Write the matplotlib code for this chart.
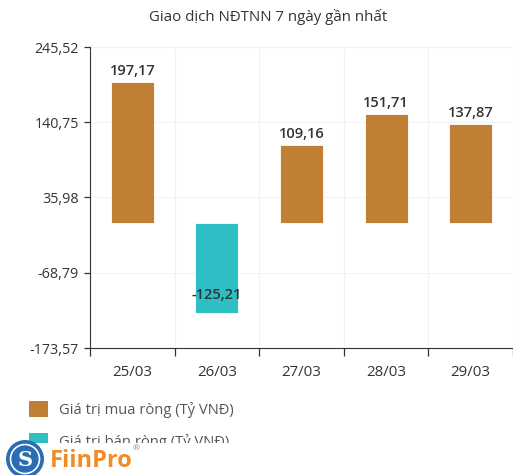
import numpy as np
import matplotlib.pyplot as plt
from matplotlib.patches import Patch, Rectangle, Ellipse

plt.rcParams['font.family'] = ['Open Sans', 'DejaVu Sans']

dates = ['25/03', '26/03', '27/03', '28/03', '29/03']
values = [197.17, -125.21, 109.16, 151.71, 137.87]
yticks = [245.52, 140.75, 35.98, -68.79, -173.57]
buy_label = 'Giá trị mua ròng (Tỷ VNĐ)'
sell_label = 'Giá trị bán ròng (Tỷ VNĐ)'

orange = '#C07F35'
teal = '#2EBFC4'

fig = plt.figure(figsize=(5.13, 4.75), dpi=100)
ax = fig.add_axes([90 / 513, 1 - 348 / 475, 1 - 90 / 513, (348 - 47) / 475])

x = np.arange(len(dates))
colors = [orange if v >= 0 else teal for v in values]
ax.bar(x, values, width=0.51, color=colors, edgecolor='white', linewidth=0.6, zorder=3)

for xi, v in zip(x, values):
    lab = f'{v:.2f}'.replace('.', ',')
    off = 3 if v >= 0 else 8
    ax.annotate(lab, (xi, v), xytext=(0, off), textcoords='offset points',
                ha='center', va='bottom', fontsize=10.5, fontweight=600,
                color='#333333', zorder=4)

ax.set_xlim(-0.5, len(dates) - 0.5)
ax.set_ylim(yticks[-1], yticks[0])
ax.set_yticks(yticks)
ax.set_yticklabels([f'{t:.2f}'.replace('.', ',') for t in yticks], fontsize=10.3,
                   color='#333333')
ax.set_xticks(x)
ax.set_xticklabels(dates, fontsize=10.8, color='#333333')
ax.tick_params(axis='x', which='major', length=0, pad=12)
ax.set_xticks(np.arange(-0.5, len(dates)), minor=True)
ax.tick_params(axis='x', which='minor', length=6, color='#333333', width=0.9)
ax.tick_params(axis='y', length=4, color='#333333', width=0.9, pad=4)

ax.grid(axis='y', which='major', color='#f2f2f2', linewidth=0.8, zorder=0)
ax.grid(axis='x', which='minor', color='#f2f2f2', linewidth=0.8, zorder=0)
for s in ['top', 'right']:
    ax.spines[s].set_visible(False)
ax.spines['left'].set_color('#333333')
ax.spines['bottom'].set_color('#333333')

fig.text(0.523, 1 - 17 / 475, 'Giao dịch NĐTNN 7 ngày gần nhất', ha='center', va='center',
         fontsize=10.8, color='#333333')

handles = [Patch(facecolor=orange, label=buy_label), Patch(facecolor=teal, label=sell_label)]
fig.legend(handles=handles, loc='upper left', bbox_to_anchor=(16 / 513, 1 - 388 / 475),
           frameon=False, fontsize=10.6, labelcolor='#555555', handlelength=1.25,
           handleheight=1.25, labelspacing=1.05, handletextpad=0.75)

# logo overlay at the bottom
fig.patches.append(Rectangle((0, 0), 1, 32 / 475, transform=fig.transFigure,
                             facecolor='white', edgecolor='none', zorder=10))
cx, cy = 25 / 513, 1 - 459 / 475
fig.patches.append(Ellipse((cx, cy), 38 / 513, 38 / 475, transform=fig.transFigure,
                           facecolor='#2a6db5', edgecolor='none', zorder=11))
fig.patches.append(Ellipse((cx, cy), 29 / 513, 29 / 475, transform=fig.transFigure,
                           facecolor='none', edgecolor='white', linewidth=1.2, zorder=12))
fig.text(cx, cy - 0.002, 'S', ha='center', va='center', fontsize=15,
         family='DejaVu Serif', fontweight='bold', color='white', zorder=13)
fig.text(50 / 513, 1 - 461 / 475, 'FiinPro', ha='left', va='center', fontsize=17,
         fontweight='bold', color='#F28C28', zorder=12)
fig.text(133 / 513, 1 - 449 / 475, '®', ha='left', va='center', fontsize=6,
         color='#7a8fa8', zorder=12)

fig.savefig('out.png', dpi=100)
